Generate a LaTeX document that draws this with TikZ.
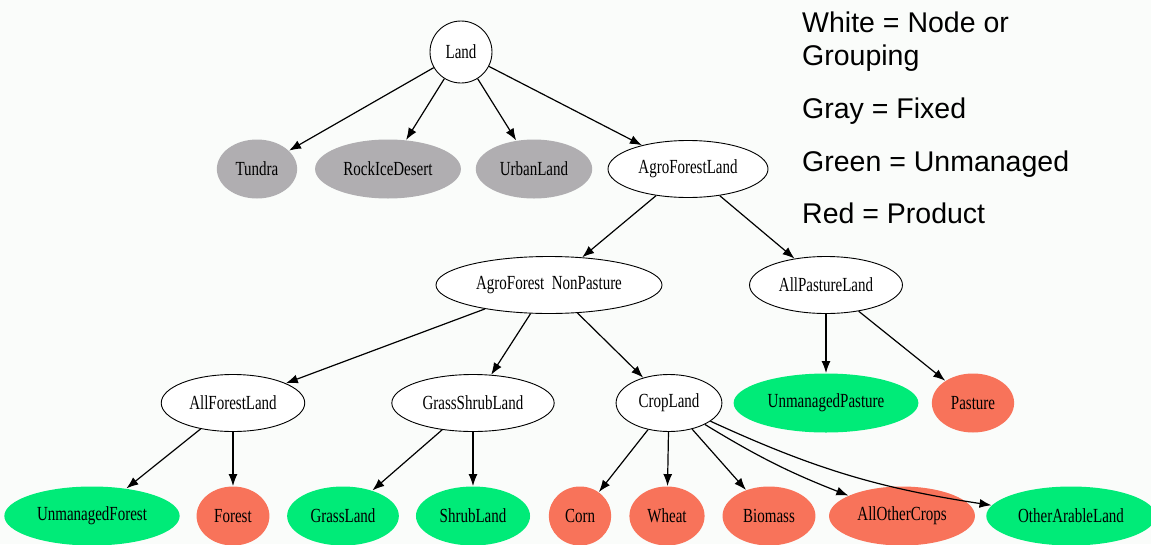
\documentclass[tikz,border=0pt]{standalone}
\usepackage{fontspec}
\newfontfamily\gvfont[FakeStretch=0.75]{Liberation Serif}
\newfontfamily\legfont{Liberation Sans}
\usetikzlibrary{arrows.meta,shapes.geometric,positioning}
\definecolor{bgcol}{HTML}{FAFCFA}
\definecolor{fixgray}{HTML}{B0AEB1}
\definecolor{unmgreen}{HTML}{00EB78}
\definecolor{prodred}{HTML}{F8735A}

\begin{document}
\begin{tikzpicture}[x=1pt,y=1pt]
	\tikzstyle{N} = [ellipse,draw,fill=white,line width=0.9pt,minimum height=57pt,inner xsep=7pt,font=\gvfont\fontsize{20}{23}\selectfont]
	\tikzstyle{Ngr} = [N,draw=none,fill=fixgray,minimum height=59pt]
	\tikzstyle{Ngn} = [N,draw=none,fill=unmgreen,minimum height=59pt]
	\tikzstyle{Nr} = [N,draw=none,fill=prodred,minimum height=59pt]
	\tikzstyle{E} = [-{Latex[length=12pt,width=9pt]},line width=1.2pt]
	\tikzstyle{leg} = [anchor=base west,inner sep=0pt,font=\legfont\fontsize{28.5}{33}\selectfont]
	\fill[bgcol] (-461,52) rectangle (690,-492);
	\useasboundingbox (-461,52) rectangle (690,-492);
	\node[N,circle,minimum size=62pt,inner sep=0pt](land) at (0,0){Land};
	% fixed land types
	\node[Ngr,below of=land,node distance=117pt,xshift=-204pt](tundra) {Tundra};
	\node[Ngr,right of=tundra,node distance=131pt](rock) {RockIceDesert};
	\node[Ngr,right of=rock,node distance=146pt](urban) {UrbanLand};
	\node[N,right of=urban,node distance=154pt](agro) {AgroForestLand};
	\draw[E](land) to (tundra);
	\draw[E](land) to (rock);
	\draw[E](land) to (urban);
	\draw[E](land) to (agro);
	\node[N,below of=agro,node distance=116pt,xshift=-139pt](nonpast) {AgroForest~~NonPasture};
	\node[N,right of=nonpast,node distance=277pt](allpast) {AllPastureLand};
	\draw[E](agro) to (nonpast);
	\draw[E](agro) to (allpast);
	\node[N,below of=nonpast,node distance=118pt,xshift=-316pt](allforest) {AllForestLand};
	\node[N,right of=allforest,node distance=240pt](grassshrub) {GrassShrubLand};
	\node[N,right of=grassshrub,node distance=196pt](cropland) {CropLand};
	\draw[E](nonpast) to (allforest);
	\draw[E](nonpast) to (grassshrub);
	\draw[E](nonpast) to (cropland);
	\node[Ngn,below of=allpast,node distance=118pt](unmpast) {UnmanagedPasture};
	\node[Nr,right of=unmpast,node distance=147pt](pasture) {Pasture};
	\draw[E](allpast) to (unmpast);
	\draw[E](allpast) to (pasture);
	% bottom row
	\node[Ngn,below of=allforest,node distance=113pt,xshift=-141pt](unmforest) {UnmanagedForest};
	\node[Nr,below of=allforest,node distance=113pt](forest) {Forest};
	\draw[E](allforest) to (unmforest);
	\draw[E](allforest) to (forest);
	\node[Ngn,below of=grassshrub,node distance=113pt,xshift=-130pt](grassland) {GrassLand};
	\node[Ngn,below of=grassshrub,node distance=113pt](shrubland) {ShrubLand};
	\draw[E](grassshrub) to (grassland);
	\draw[E](grassshrub) to (shrubland);
	\node[Nr,below of=cropland,node distance=113pt,xshift=-89pt](corn) {Corn};
	\node[Nr,right of=corn,node distance=87pt](wheat) {Wheat};
	\node[Nr,right of=wheat,node distance=102pt](biomass) {Biomass};
	\node[Nr,right of=biomass,node distance=133pt](allother) {AllOtherCrops};
	\node[Ngn,right of=allother,node distance=169pt](otherarable) {OtherArableLand};
	\draw[E](cropland) to (corn);
	\draw[E](cropland) to (wheat);
	\draw[E](cropland) to (biomass);
	\draw[E](cropland) to[bend right=5] (allother);
	\draw[E](cropland) to[bend right=8] (otherarable);
	% legend
	\node[leg](legwhite) at (341,20) {White = Node or};
	\node[leg](leggroup) at (341,-13) {Grouping};
	\node[leg](leggray) at (341,-66) {Gray = Fixed};
	\node[leg](leggreen) at (341,-119) {Green = Unmanaged};
	\node[leg](legred) at (341,-171) {Red = Product};
\end{tikzpicture}
\end{document}
